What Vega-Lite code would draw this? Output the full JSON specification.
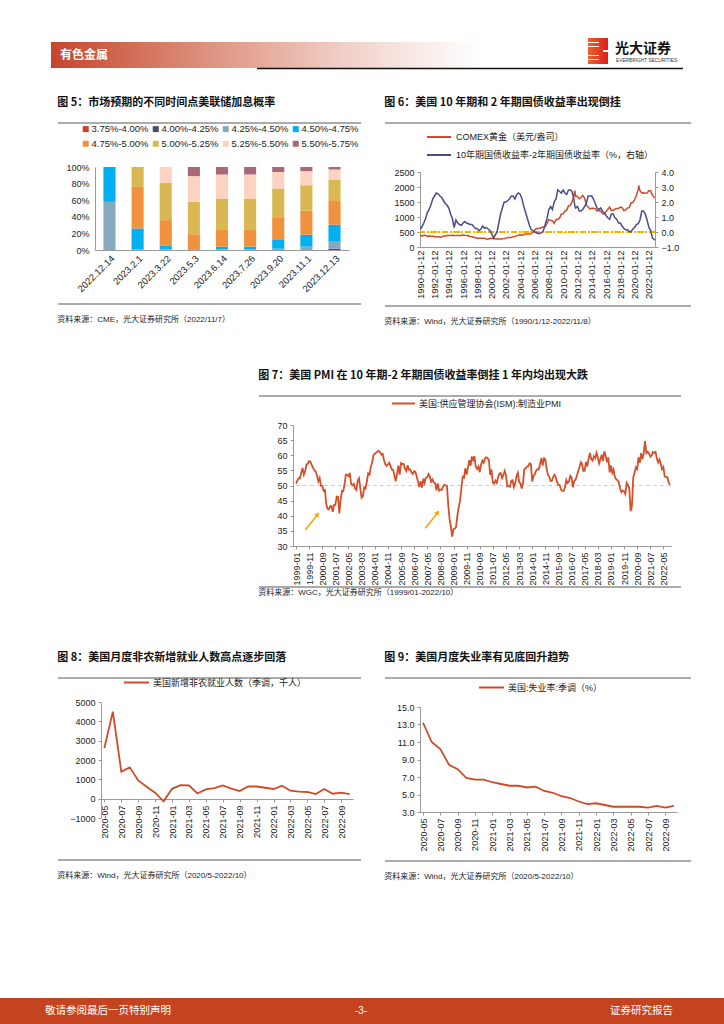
{
  "$schema": "https://vega.github.io/schema/vega-lite/v6.json",
  "padding": 0,
  "background": "white",
  "spacing": 0,
  "resolve": {"scale": {"color": "independent"}, "legend": {"color": "independent"}},
  "config": {
    "view": {"stroke": null},
    "axis": {"labelFont": "Liberation Sans", "labelFontSize": 9, "labelColor": "#222", "domainColor": "#9a9a9a", "tickColor": "#9a9a9a", "tickSize": 3, "grid": false, "labelPadding": 2, "labelOverlap": false, "labelBound": false},
    "legend": {"labelFont": "Liberation Sans, Noto Sans CJK SC", "labelFontSize": 9, "labelColor": "#222", "padding": 0},
    "title": {"font": "Noto Sans CJK SC", "fontSize": 11, "fontWeight": "bold", "color": "#111", "anchor": "start", "frame": "bounds"}
  },
  "datasets": {
    "fed": [
      {"t":"2022.12.14","r":"4.25%-4.50%","p":58},{"t":"2022.12.14","r":"4.50%-4.75%","p":42},
      {"t":"2023.2.1","r":"4.25%-4.50%","p":1},{"t":"2023.2.1","r":"4.50%-4.75%","p":25},{"t":"2023.2.1","r":"4.75%-5.00%","p":50},{"t":"2023.2.1","r":"5.00%-5.25%","p":24},
      {"t":"2023.3.22","r":"4.25%-4.50%","p":1},{"t":"2023.3.22","r":"4.50%-4.75%","p":4},{"t":"2023.3.22","r":"4.75%-5.00%","p":31},{"t":"2023.3.22","r":"5.00%-5.25%","p":45},{"t":"2023.3.22","r":"5.25%-5.50%","p":19},
      {"t":"2023.5.3","r":"4.25%-4.50%","p":1},{"t":"2023.5.3","r":"4.75%-5.00%","p":18},{"t":"2023.5.3","r":"5.00%-5.25%","p":39},{"t":"2023.5.3","r":"5.25%-5.50%","p":31},{"t":"2023.5.3","r":"5.50%-5.75%","p":11},
      {"t":"2023.6.14","r":"4.25%-4.50%","p":1},{"t":"2023.6.14","r":"4.50%-4.75%","p":3},{"t":"2023.6.14","r":"4.75%-5.00%","p":21},{"t":"2023.6.14","r":"5.00%-5.25%","p":37},{"t":"2023.6.14","r":"5.25%-5.50%","p":29},{"t":"2023.6.14","r":"5.50%-5.75%","p":9},
      {"t":"2023.7.26","r":"4.25%-4.50%","p":1},{"t":"2023.7.26","r":"4.50%-4.75%","p":3},{"t":"2023.7.26","r":"4.75%-5.00%","p":21},{"t":"2023.7.26","r":"5.00%-5.25%","p":37},{"t":"2023.7.26","r":"5.25%-5.50%","p":29},{"t":"2023.7.26","r":"5.50%-5.75%","p":9},
      {"t":"2023.9.20","r":"4.25%-4.50%","p":1.5},{"t":"2023.9.20","r":"4.50%-4.75%","p":10.5},{"t":"2023.9.20","r":"4.75%-5.00%","p":26.5},{"t":"2023.9.20","r":"5.00%-5.25%","p":35.5},{"t":"2023.9.20","r":"5.25%-5.50%","p":20},{"t":"2023.9.20","r":"5.50%-5.75%","p":6},
      {"t":"2023.11.1","r":"4.25%-4.50%","p":4},{"t":"2023.11.1","r":"4.50%-4.75%","p":14.5},{"t":"2023.11.1","r":"4.75%-5.00%","p":29},{"t":"2023.11.1","r":"5.00%-5.25%","p":30.5},{"t":"2023.11.1","r":"5.25%-5.50%","p":17},{"t":"2023.11.1","r":"5.50%-5.75%","p":5},
      {"t":"2023.12.13","r":"4.00%-4.25%","p":1.5},{"t":"2023.12.13","r":"4.25%-4.50%","p":8.5},{"t":"2023.12.13","r":"4.50%-4.75%","p":20.5},{"t":"2023.12.13","r":"4.75%-5.00%","p":29.5},{"t":"2023.12.13","r":"5.00%-5.25%","p":25},{"t":"2023.12.13","r":"5.25%-5.50%","p":12},{"t":"2023.12.13","r":"5.50%-5.75%","p":3}
    ],
    "gold": [
      {"d":"1990-01-12","g":400,"s":0.2},{"d":"1990-04-12","g":360,"s":0.35},{"d":"1990-07-12","g":390,"s":0.6},{"d":"1990-10-12","g":380,"s":0.9},
      {"d":"1991-01-12","g":360,"s":1.3},{"d":"1991-04-12","g":365,"s":1.5},{"d":"1991-07-12","g":355,"s":1.8},{"d":"1991-10-12","g":360,"s":2.2},
      {"d":"1992-01-12","g":345,"s":2.4},{"d":"1992-04-12","g":340,"s":2.6},{"d":"1992-07-12","g":345,"s":2.55},{"d":"1992-10-12","g":335,"s":2.4},
      {"d":"1993-01-12","g":330,"s":2.3},{"d":"1993-04-12","g":370,"s":2.1},{"d":"1993-07-12","g":370,"s":1.9},{"d":"1993-10-12","g":385,"s":1.8},
      {"d":"1994-01-12","g":385,"s":1.6},{"d":"1994-04-12","g":385,"s":1.2},{"d":"1994-07-12","g":390,"s":0.9},{"d":"1994-10-12","g":385,"s":0.3},
      {"d":"1995-01-12","g":380,"s":0.8},{"d":"1995-04-12","g":385,"s":0.6},{"d":"1995-07-12","g":385,"s":0.5},{"d":"1995-10-12","g":385,"s":0.45},
      {"d":"1996-01-12","g":400,"s":0.6},{"d":"1996-04-12","g":390,"s":0.7},{"d":"1996-07-12","g":385,"s":0.6},{"d":"1996-10-12","g":375,"s":0.55},
      {"d":"1997-01-12","g":350,"s":0.5},{"d":"1997-04-12","g":340,"s":0.5},{"d":"1997-07-12","g":325,"s":0.35},{"d":"1997-10-12","g":310,"s":0.25},
      {"d":"1998-01-12","g":295,"s":0.2},{"d":"1998-04-12","g":295,"s":0.1},{"d":"1998-07-12","g":290,"s":0.2},{"d":"1998-10-12","g":295,"s":0.4},
      {"d":"1999-01-12","g":290,"s":0.25},{"d":"1999-04-12","g":265,"s":0.3},{"d":"1999-07-12","g":260,"s":0.2},{"d":"1999-10-12","g":290,"s":0.1},
      {"d":"2000-01-12","g":285,"s":-0.1},{"d":"2000-04-12","g":280,"s":-0.4},{"d":"2000-07-12","g":275,"s":-0.2},{"d":"2000-10-12","g":270,"s":0.0},
      {"d":"2001-01-12","g":265,"s":0.6},{"d":"2001-04-12","g":270,"s":1.2},{"d":"2001-07-12","g":275,"s":1.6},{"d":"2001-10-12","g":280,"s":2.0},
      {"d":"2002-01-12","g":295,"s":2.0},{"d":"2002-04-12","g":315,"s":2.1},{"d":"2002-07-12","g":315,"s":2.2},{"d":"2002-10-12","g":320,"s":2.4},
      {"d":"2003-01-12","g":345,"s":2.4},{"d":"2003-04-12","g":350,"s":2.2},{"d":"2003-07-12","g":370,"s":2.5},{"d":"2003-10-12","g":395,"s":2.6},
      {"d":"2004-01-12","g":410,"s":2.5},{"d":"2004-04-12","g":395,"s":2.2},{"d":"2004-07-12","g":405,"s":1.7},{"d":"2004-10-12","g":435,"s":1.3},
      {"d":"2005-01-12","g":430,"s":0.9},{"d":"2005-04-12","g":430,"s":0.5},{"d":"2005-07-12","g":440,"s":0.2},{"d":"2005-10-12","g":485,"s":0.1},
      {"d":"2006-01-12","g":555,"s":0.0},{"d":"2006-04-12","g":615,"s":-0.05},{"d":"2006-07-12","g":620,"s":-0.1},{"d":"2006-10-12","g":625,"s":-0.1},
      {"d":"2007-01-12","g":650,"s":-0.05},{"d":"2007-04-12","g":665,"s":0.1},{"d":"2007-07-12","g":680,"s":0.5},{"d":"2007-10-12","g":790,"s":0.9},
      {"d":"2008-01-12","g":920,"s":1.5},{"d":"2008-04-12","g":890,"s":1.7},{"d":"2008-07-12","g":870,"s":1.5},{"d":"2008-10-12","g":790,"s":2.0},
      {"d":"2009-01-12","g":910,"s":2.2},{"d":"2009-04-12","g":925,"s":2.8},{"d":"2009-07-12","g":960,"s":2.7},{"d":"2009-10-12","g":1100,"s":2.6},
      {"d":"2010-01-12","g":1110,"s":2.8},{"d":"2010-04-12","g":1200,"s":2.6},{"d":"2010-07-12","g":1230,"s":2.5},{"d":"2010-10-12","g":1370,"s":2.8},
      {"d":"2011-01-12","g":1390,"s":2.8},{"d":"2011-04-12","g":1510,"s":2.7},{"d":"2011-07-12","g":1700,"s":2.2},{"d":"2011-09-05","g":1880,"s":1.7},{"d":"2011-10-12","g":1690,"s":1.6},
      {"d":"2012-01-12","g":1690,"s":1.7},{"d":"2012-04-12","g":1610,"s":1.4},{"d":"2012-07-12","g":1650,"s":1.4},{"d":"2012-10-12","g":1720,"s":1.5},
      {"d":"2013-01-12","g":1630,"s":1.7},{"d":"2013-04-12","g":1410,"s":1.9},{"d":"2013-07-12","g":1330,"s":2.4},{"d":"2013-10-12","g":1270,"s":2.4},
      {"d":"2014-01-12","g":1290,"s":2.4},{"d":"2014-04-12","g":1290,"s":2.2},{"d":"2014-07-12","g":1280,"s":1.9},{"d":"2014-10-12","g":1200,"s":1.6},
      {"d":"2015-01-12","g":1220,"s":1.5},{"d":"2015-04-12","g":1190,"s":1.6},{"d":"2015-07-12","g":1120,"s":1.4},{"d":"2015-10-12","g":1100,"s":1.3},
      {"d":"2016-01-12","g":1180,"s":1.1},{"d":"2016-04-12","g":1260,"s":0.95},{"d":"2016-07-12","g":1330,"s":0.85},{"d":"2016-10-12","g":1220,"s":1.2},
      {"d":"2017-01-12","g":1220,"s":1.2},{"d":"2017-04-12","g":1260,"s":0.95},{"d":"2017-07-12","g":1280,"s":0.85},{"d":"2017-10-12","g":1280,"s":0.6},
      {"d":"2018-01-12","g":1330,"s":0.6},{"d":"2018-04-12","g":1310,"s":0.4},{"d":"2018-07-12","g":1210,"s":0.25},{"d":"2018-10-12","g":1230,"s":0.15},
      {"d":"2019-01-12","g":1300,"s":0.15},{"d":"2019-04-12","g":1310,"s":0.05},{"d":"2019-07-12","g":1470,"s":0.0},{"d":"2019-10-12","g":1480,"s":0.2},
      {"d":"2020-01-12","g":1580,"s":0.3},{"d":"2020-04-12","g":1710,"s":0.5},{"d":"2020-07-12","g":1910,"s":0.55},{"d":"2020-08-07","g":2050,"s":0.6},{"d":"2020-10-12","g":1880,"s":0.8},
      {"d":"2021-01-12","g":1800,"s":1.4},{"d":"2021-04-12","g":1810,"s":1.4},{"d":"2021-07-12","g":1790,"s":1.2},{"d":"2021-10-12","g":1800,"s":0.8},
      {"d":"2022-01-12","g":1880,"s":0.3},{"d":"2022-04-12","g":1870,"s":0.1},{"d":"2022-07-12","g":1730,"s":-0.4},{"d":"2022-10-12","g":1650,"s":-0.5},{"d":"2022-11-08","g":1660,"s":-0.55}
    ],
    "pmi": [
      {"d":"1999-01","v":50.6},{"d":"1999-02","v":51.7},{"d":"1999-03","v":52.4},{"d":"1999-04","v":52.3},{"d":"1999-05","v":54.3},{"d":"1999-06","v":55.8},{"d":"1999-07","v":53.6},{"d":"1999-08","v":54.8},{"d":"1999-09","v":57.0},{"d":"1999-10","v":57.2},{"d":"1999-11","v":58.1},{"d":"1999-12","v":57.8},
      {"d":"2000-01","v":56.7},{"d":"2000-02","v":55.8},{"d":"2000-03","v":54.9},{"d":"2000-04","v":54.7},{"d":"2000-05","v":53.2},{"d":"2000-06","v":51.4},{"d":"2000-07","v":52.5},{"d":"2000-08","v":49.9},{"d":"2000-09","v":49.9},{"d":"2000-10","v":48.3},{"d":"2000-11","v":48.5},{"d":"2000-12","v":43.9},
      {"d":"2001-01","v":42.3},{"d":"2001-02","v":42.1},{"d":"2001-03","v":43.1},{"d":"2001-04","v":43.2},{"d":"2001-05","v":41.3},{"d":"2001-06","v":43.6},{"d":"2001-07","v":43.6},{"d":"2001-08","v":46.3},{"d":"2001-09","v":46.2},{"d":"2001-10","v":40.8},{"d":"2001-11","v":45.3},{"d":"2001-12","v":48.2},
      {"d":"2002-01","v":48.1},{"d":"2002-02","v":50.7},{"d":"2002-03","v":53.6},{"d":"2002-04","v":53.5},{"d":"2002-05","v":53.1},{"d":"2002-06","v":54.2},{"d":"2002-07","v":50.5},{"d":"2002-08","v":50.1},{"d":"2002-09","v":50.5},{"d":"2002-10","v":49.0},{"d":"2002-11","v":48.5},{"d":"2002-12","v":51.6},
      {"d":"2003-01","v":52.4},{"d":"2003-02","v":48.9},{"d":"2003-03","v":46.0},{"d":"2003-04","v":46.5},{"d":"2003-05","v":49.4},{"d":"2003-06","v":49.0},{"d":"2003-07","v":51.3},{"d":"2003-08","v":54.0},{"d":"2003-09","v":53.6},{"d":"2003-10","v":56.2},{"d":"2003-11","v":57.5},{"d":"2003-12","v":60.0},
      {"d":"2004-01","v":60.5},{"d":"2004-02","v":60.8},{"d":"2004-03","v":61.2},{"d":"2004-04","v":61.5},{"d":"2004-05","v":61.0},{"d":"2004-06","v":60.2},{"d":"2004-07","v":60.5},{"d":"2004-08","v":58.5},{"d":"2004-09","v":57.0},{"d":"2004-10","v":56.5},{"d":"2004-11","v":57.0},{"d":"2004-12","v":57.5},
      {"d":"2005-01","v":56.4},{"d":"2005-02","v":55.3},{"d":"2005-03","v":55.2},{"d":"2005-04","v":53.3},{"d":"2005-05","v":51.4},{"d":"2005-06","v":53.8},{"d":"2005-07","v":56.6},{"d":"2005-08","v":53.6},{"d":"2005-09","v":57.4},{"d":"2005-10","v":57.1},{"d":"2005-11","v":57.1},{"d":"2005-12","v":55.6},
      {"d":"2006-01","v":54.8},{"d":"2006-02","v":56.7},{"d":"2006-03","v":55.2},{"d":"2006-04","v":55.3},{"d":"2006-05","v":54.4},{"d":"2006-06","v":53.8},{"d":"2006-07","v":54.7},{"d":"2006-08","v":54.5},{"d":"2006-09","v":52.9},{"d":"2006-10","v":51.2},{"d":"2006-11","v":49.5},{"d":"2006-12","v":51.4},
      {"d":"2007-01","v":49.3},{"d":"2007-02","v":52.3},{"d":"2007-03","v":50.9},{"d":"2007-04","v":52.6},{"d":"2007-05","v":52.7},{"d":"2007-06","v":53.8},{"d":"2007-07","v":53.0},{"d":"2007-08","v":51.2},{"d":"2007-09","v":52.0},{"d":"2007-10","v":50.9},{"d":"2007-11","v":50.8},{"d":"2007-12","v":48.4},
      {"d":"2008-01","v":50.7},{"d":"2008-02","v":48.3},{"d":"2008-03","v":48.6},{"d":"2008-04","v":48.6},{"d":"2008-05","v":49.6},{"d":"2008-06","v":50.2},{"d":"2008-07","v":50.0},{"d":"2008-08","v":49.9},{"d":"2008-09","v":43.5},{"d":"2008-10","v":38.9},{"d":"2008-11","v":36.2},{"d":"2008-12","v":33.1},
      {"d":"2009-01","v":35.6},{"d":"2009-02","v":35.8},{"d":"2009-03","v":36.3},{"d":"2009-04","v":40.1},{"d":"2009-05","v":42.8},{"d":"2009-06","v":45.0},{"d":"2009-07","v":48.9},{"d":"2009-08","v":52.9},{"d":"2009-09","v":52.6},{"d":"2009-10","v":55.7},{"d":"2009-11","v":53.6},{"d":"2009-12","v":55.9},
      {"d":"2010-01","v":58.4},{"d":"2010-02","v":56.5},{"d":"2010-03","v":59.6},{"d":"2010-04","v":58.4},{"d":"2010-05","v":59.7},{"d":"2010-06","v":56.2},{"d":"2010-07","v":55.5},{"d":"2010-08","v":56.3},{"d":"2010-09","v":54.4},{"d":"2010-10","v":56.9},{"d":"2010-11","v":58.2},{"d":"2010-12","v":57.5},
      {"d":"2011-01","v":59.0},{"d":"2011-02","v":59.3},{"d":"2011-03","v":59.0},{"d":"2011-04","v":58.5},{"d":"2011-05","v":53.5},{"d":"2011-06","v":55.3},{"d":"2011-07","v":50.9},{"d":"2011-08","v":50.6},{"d":"2011-09","v":51.6},{"d":"2011-10","v":50.8},{"d":"2011-11","v":52.7},{"d":"2011-12","v":53.9},
      {"d":"2012-01","v":54.1},{"d":"2012-02","v":52.4},{"d":"2012-03","v":53.4},{"d":"2012-04","v":54.8},{"d":"2012-05","v":53.5},{"d":"2012-06","v":49.7},{"d":"2012-07","v":49.8},{"d":"2012-08","v":49.6},{"d":"2012-09","v":51.5},{"d":"2012-10","v":51.7},{"d":"2012-11","v":49.5},{"d":"2012-12","v":50.7},
      {"d":"2013-01","v":53.1},{"d":"2013-02","v":54.2},{"d":"2013-03","v":51.3},{"d":"2013-04","v":50.7},{"d":"2013-05","v":49.0},{"d":"2013-06","v":50.9},{"d":"2013-07","v":55.4},{"d":"2013-08","v":55.7},{"d":"2013-09","v":56.2},{"d":"2013-10","v":56.4},{"d":"2013-11","v":57.3},{"d":"2013-12","v":57.0},
      {"d":"2014-01","v":51.3},{"d":"2014-02","v":53.2},{"d":"2014-03","v":53.7},{"d":"2014-04","v":54.9},{"d":"2014-05","v":55.4},{"d":"2014-06","v":55.3},{"d":"2014-07","v":57.1},{"d":"2014-08","v":59.0},{"d":"2014-09","v":56.6},{"d":"2014-10","v":59.0},{"d":"2014-11","v":58.7},{"d":"2014-12","v":55.5},
      {"d":"2015-01","v":53.5},{"d":"2015-02","v":52.9},{"d":"2015-03","v":51.5},{"d":"2015-04","v":51.5},{"d":"2015-05","v":52.8},{"d":"2015-06","v":53.5},{"d":"2015-07","v":52.7},{"d":"2015-08","v":51.1},{"d":"2015-09","v":50.2},{"d":"2015-10","v":50.1},{"d":"2015-11","v":48.6},{"d":"2015-12","v":48.2},
      {"d":"2016-01","v":48.2},{"d":"2016-02","v":49.5},{"d":"2016-03","v":51.8},{"d":"2016-04","v":50.8},{"d":"2016-05","v":51.3},{"d":"2016-06","v":53.2},{"d":"2016-07","v":52.6},{"d":"2016-08","v":49.4},{"d":"2016-09","v":51.5},{"d":"2016-10","v":51.9},{"d":"2016-11","v":53.2},{"d":"2016-12","v":54.7},
      {"d":"2017-01","v":56.0},{"d":"2017-02","v":57.7},{"d":"2017-03","v":57.2},{"d":"2017-04","v":54.8},{"d":"2017-05","v":54.9},{"d":"2017-06","v":57.8},{"d":"2017-07","v":56.3},{"d":"2017-08","v":58.8},{"d":"2017-09","v":60.8},{"d":"2017-10","v":58.7},{"d":"2017-11","v":58.2},{"d":"2017-12","v":59.7},
      {"d":"2018-01","v":59.1},{"d":"2018-02","v":60.8},{"d":"2018-03","v":59.3},{"d":"2018-04","v":57.3},{"d":"2018-05","v":58.7},{"d":"2018-06","v":60.2},{"d":"2018-07","v":58.1},{"d":"2018-08","v":61.3},{"d":"2018-09","v":59.8},{"d":"2018-10","v":57.7},{"d":"2018-11","v":59.3},{"d":"2018-12","v":54.3},
      {"d":"2019-01","v":56.6},{"d":"2019-02","v":54.2},{"d":"2019-03","v":55.3},{"d":"2019-04","v":52.8},{"d":"2019-05","v":52.1},{"d":"2019-06","v":51.7},{"d":"2019-07","v":51.2},{"d":"2019-08","v":49.1},{"d":"2019-09","v":47.8},{"d":"2019-10","v":48.3},{"d":"2019-11","v":48.1},{"d":"2019-12","v":47.2},
      {"d":"2020-01","v":50.9},{"d":"2020-02","v":50.1},{"d":"2020-03","v":49.1},{"d":"2020-04","v":41.5},{"d":"2020-05","v":43.1},{"d":"2020-06","v":52.6},{"d":"2020-07","v":54.2},{"d":"2020-08","v":56.0},{"d":"2020-09","v":55.4},{"d":"2020-10","v":59.3},{"d":"2020-11","v":57.5},{"d":"2020-12","v":60.7},
      {"d":"2021-01","v":58.7},{"d":"2021-02","v":60.8},{"d":"2021-03","v":64.7},{"d":"2021-04","v":60.7},{"d":"2021-05","v":61.2},{"d":"2021-06","v":60.6},{"d":"2021-07","v":59.5},{"d":"2021-08","v":59.9},{"d":"2021-09","v":61.1},{"d":"2021-10","v":60.8},{"d":"2021-11","v":61.1},{"d":"2021-12","v":58.8},
      {"d":"2022-01","v":57.6},{"d":"2022-02","v":58.6},{"d":"2022-03","v":57.1},{"d":"2022-04","v":55.4},{"d":"2022-05","v":56.1},{"d":"2022-06","v":53.0},{"d":"2022-07","v":52.8},{"d":"2022-08","v":52.8},{"d":"2022-09","v":50.9},{"d":"2022-10","v":50.2}
    ],
    "arrows": [
      {"d":"1999-08-04","v":35.3,"d2":"2000-05-16","v2":40.5},
      {"d":"2007-03-19","v":35.9,"d2":"2008-01-01","v2":41.1}
    ],
    "nfp": [
      {"m":"2020-05","v":2620},{"m":"2020-06","v":4500},{"m":"2020-07","v":1400},{"m":"2020-08","v":1620},{"m":"2020-09","v":940},{"m":"2020-10","v":620},{"m":"2020-11","v":310},{"m":"2020-12","v":-140},
      {"m":"2021-01","v":510},{"m":"2021-02","v":700},{"m":"2021-03","v":690},{"m":"2021-04","v":270},{"m":"2021-05","v":480},{"m":"2021-06","v":550},{"m":"2021-07","v":685},{"m":"2021-08","v":515},{"m":"2021-09","v":395},{"m":"2021-10","v":630},{"m":"2021-11","v":630},{"m":"2021-12","v":565},
      {"m":"2022-01","v":500},{"m":"2022-02","v":670},{"m":"2022-03","v":410},{"m":"2022-04","v":360},{"m":"2022-05","v":345},{"m":"2022-06","v":240},{"m":"2022-07","v":500},{"m":"2022-08","v":255},{"m":"2022-09","v":310},{"m":"2022-10","v":240}
    ],
    "unemp": [
      {"m":"2020-05","v":13.2},{"m":"2020-06","v":11.0},{"m":"2020-07","v":10.2},{"m":"2020-08","v":8.4},{"m":"2020-09","v":7.9},{"m":"2020-10","v":6.9},{"m":"2020-11","v":6.7},{"m":"2020-12","v":6.7},
      {"m":"2021-01","v":6.4},{"m":"2021-02","v":6.2},{"m":"2021-03","v":6.0},{"m":"2021-04","v":6.0},{"m":"2021-05","v":5.8},{"m":"2021-06","v":5.9},{"m":"2021-07","v":5.4},{"m":"2021-08","v":5.2},{"m":"2021-09","v":4.8},{"m":"2021-10","v":4.6},{"m":"2021-11","v":4.2},{"m":"2021-12","v":3.9},
      {"m":"2022-01","v":4.0},{"m":"2022-02","v":3.8},{"m":"2022-03","v":3.6},{"m":"2022-04","v":3.6},{"m":"2022-05","v":3.6},{"m":"2022-06","v":3.6},{"m":"2022-07","v":3.5},{"m":"2022-08","v":3.7},{"m":"2022-09","v":3.5},{"m":"2022-10","v":3.7}
    ]
  },
  "vconcat": [
    {
      "width": 724, "height": 70,
      "data": {"values": [{}]},
      "layer": [
        {"mark": {"type": "rect", "fill": {"gradient": "linear", "x1": 0, "x2": 1, "y1": 0, "y2": 0, "stops": [{"offset": 0, "color": "#C6452B"}, {"offset": 0.35, "color": "#DD8F7C"}, {"offset": 0.7, "color": "#F1D3CB"}, {"offset": 1, "color": "#FFFFFF"}]}},
         "encoding": {"x": {"datum": 51, "type": "quantitative", "scale": {"domain": [0, 724], "nice": false, "zero": false}, "axis": null}, "x2": {"datum": 480}, "y": {"datum": 42, "type": "quantitative", "scale": {"domain": [0, 70], "nice": false, "zero": false, "reverse": true}, "axis": null}, "y2": {"datum": 68}}},
        {"mark": {"type": "text", "text": "有色金属", "font": "Noto Sans CJK SC", "fontSize": 12, "fontWeight": "bold", "color": "#FFFFFF", "align": "left", "baseline": "middle"},
         "encoding": {"x": {"datum": 60, "type": "quantitative"}, "y": {"datum": 55, "type": "quantitative"}}},
        {"mark": {"type": "rule", "color": "#111111", "strokeWidth": 1.5},
         "encoding": {"x": {"datum": 257, "type": "quantitative"}, "x2": {"datum": 683}, "y": {"datum": 68.5, "type": "quantitative"}}},
        {"mark": {"type": "rect", "fill": {"gradient": "linear", "x1": 0, "x2": 1, "y1": 0, "y2": 0, "stops": [{"offset": 0, "color": "#F0602E"}, {"offset": 1, "color": "#D9201E"}]}},
         "encoding": {"x": {"datum": 588, "type": "quantitative"}, "x2": {"datum": 608}, "y": {"datum": 38, "type": "quantitative"}, "y2": {"datum": 64}}},
        {"mark": {"type": "rule", "color": "#FFFFFF", "strokeWidth": 1}, "encoding": {"x": {"datum": 588, "type": "quantitative"}, "x2": {"datum": 599}, "y": {"datum": 42.5, "type": "quantitative"}}},
        {"mark": {"type": "rule", "color": "#FFFFFF", "strokeWidth": 1}, "encoding": {"x": {"datum": 588, "type": "quantitative"}, "x2": {"datum": 599}, "y": {"datum": 46.5, "type": "quantitative"}}},
        {"mark": {"type": "rule", "color": "#FFFFFF", "strokeWidth": 1}, "encoding": {"x": {"datum": 588, "type": "quantitative"}, "x2": {"datum": 599}, "y": {"datum": 55.5, "type": "quantitative"}}},
        {"mark": {"type": "rule", "color": "#FFFFFF", "strokeWidth": 1}, "encoding": {"x": {"datum": 588, "type": "quantitative"}, "x2": {"datum": 599}, "y": {"datum": 59.5, "type": "quantitative"}}},
        {"mark": {"type": "rect", "color": "#FFFFFF"}, "encoding": {"x": {"datum": 603, "type": "quantitative"}, "x2": {"datum": 608}, "y": {"datum": 50, "type": "quantitative"}, "y2": {"datum": 52}}},
        {"mark": {"type": "text", "text": "光大证券", "font": "Noto Sans CJK SC", "fontSize": 14, "fontWeight": "bold", "color": "#111111", "align": "left", "baseline": "middle"},
         "encoding": {"x": {"datum": 615, "type": "quantitative"}, "y": {"datum": 49, "type": "quantitative"}}},
        {"mark": {"type": "text", "text": "EVERBRIGHT SECURITIES", "font": "Liberation Sans", "fontSize": 4.8, "color": "#333333", "align": "left", "baseline": "middle"},
         "encoding": {"x": {"datum": 616, "type": "quantitative"}, "y": {"datum": 60.5, "type": "quantitative"}}}
      ]
    },
    {"width": 1, "height": 27, "data": {"values": []}, "mark": "point"},
    {
      "spacing": 22,
      "resolve": {"scale": {"color": "independent"}, "legend": {"color": "independent"}},
      "hconcat": [
        {"width": 35, "height": 1, "data": {"values": []}, "mark": "point"},
        {
          "spacing": 0,
          "resolve": {"scale": {"color": "independent"}, "legend": {"color": "independent"}},
          "vconcat": [
            {
              "width": 254, "height": 1, "data": {"values": [{}]},
              "title": {"text": "图 5：市场预期的不同时间点美联储加息概率", "orient": "top", "offset": 3, "baseline": "bottom", "anchor": "start", "frame": "bounds"},
              "mark": {"type": "rule", "color": "#8f8f8f", "strokeWidth": 1.5},
              "encoding": {"x": {"datum": -37, "type": "quantitative", "scale": {"domain": [0, 254], "nice": false, "zero": false}, "axis": null}, "x2": {"datum": 266}, "y": {"datum": 1, "type": "quantitative", "scale": {"domain": [0, 1], "nice": false}, "axis": null}}
            },
            {
              "width": 254, "height": 83,
              "data": {"name": "fed"},
              "mark": {"type": "bar"},
              "encoding": {
                "x": {"field": "t", "type": "ordinal", "sort": ["2022.12.14","2023.2.1","2023.3.22","2023.5.3","2023.6.14","2023.7.26","2023.9.20","2023.11.1","2023.12.13"], "scale": {"paddingInner": 0.57, "paddingOuter": 0.3}, "axis": {"title": null, "labelAngle": -45, "ticks": false, "labelPadding": 3, "labelOverlap": false, "labelFontSize": 9.5}},
                "y": {"field": "p", "type": "quantitative", "stack": "zero", "scale": {"domain": [0, 100], "nice": false}, "axis": {"title": null, "values": [0, 20, 40, 60, 80, 100], "tickCount": 100, "labelExpr": "datum.value + '%'", "ticks": false, "labelPadding": 6, "labelOverlap": false}},
                "color": {"field": "r", "type": "nominal", "scale": {"domain": ["3.75%-4.00%","4.00%-4.25%","4.25%-4.50%","4.50%-4.75%","4.75%-5.00%","5.00%-5.25%","5.25%-5.50%","5.50%-5.75%"], "range": ["#C8402A","#4F4B6E","#86AABD","#00B0F0","#F0913D","#D9B853","#FCD3C1","#A8687A"]},
                  "legend": {"title": null, "orient": "none", "legendX": -14, "legendY": -43, "direction": "horizontal", "columns": 4, "symbolType": "square", "symbolSize": 36, "symbolStrokeWidth": 0, "labelFontSize": 9.5, "labelFont": "Liberation Sans", "labelOffset": 1, "columnPadding": 2, "rowPadding": 4}},
                "order": {"field": "r", "sort": "ascending"}
              }
            },
            {
              "width": 254, "height": 10, "data": {"values": [{}]},
              "title": {"text": "资料来源：CME，光大证券研究所（2022/11/7）", "orient": "bottom", "offset": 11, "baseline": "top", "anchor": "start", "frame": "bounds", "fontSize": 8, "fontWeight": "normal", "font": "Liberation Sans, Noto Sans CJK SC", "color": "#222"},
              "mark": {"type": "rule", "color": "#8f8f8f", "strokeWidth": 1.5},
              "encoding": {"x": {"datum": -37, "type": "quantitative", "scale": {"domain": [0, 254], "nice": false, "zero": false}, "axis": null}, "x2": {"datum": 266}, "y": {"datum": 0, "type": "quantitative", "scale": {"domain": [0, 1], "nice": false}, "axis": null}}
            }
          ]
        },
        {
          "spacing": 0,
          "resolve": {"scale": {"color": "independent"}, "legend": {"color": "independent"}},
          "vconcat": [
            {
              "width": 235, "height": 1, "data": {"values": [{}]},
              "title": {"text": "图 6：美国 10 年期和 2 年期国债收益率出现倒挂", "orient": "top", "offset": 3, "baseline": "bottom", "anchor": "start", "frame": "bounds"},
              "mark": {"type": "rule", "color": "#8f8f8f", "strokeWidth": 1.5},
              "encoding": {"x": {"datum": -35, "type": "quantitative", "scale": {"domain": [0, 235], "nice": false, "zero": false}, "axis": null}, "x2": {"datum": 271}, "y": {"datum": 1, "type": "quantitative", "scale": {"domain": [0, 1], "nice": false}, "axis": null}}
            },
            {
              "width": 235, "height": 75,
              "data": {"name": "gold"},
              "layer": [
                {
                  "mark": {"type": "line", "strokeWidth": 1.5},
                  "encoding": {
                    "x": {"field": "d", "type": "temporal", "scale": {"type": "utc", "domain": [{"year": 1990, "month": 1, "date": 1, "utc": true}, {"year": 2022, "month": 11, "date": 20, "utc": true}]},
                      "axis": {"title": null, "format": "%Y-%m-%d", "labelAngle": -90, "labelFontSize": 9.5, "ticks": false, "labelPadding": 3, "labelOverlap": false, "tickCount": 100, "values": [{"year":1990,"month":1,"date":12,"utc":true},{"year":1992,"month":1,"date":12,"utc":true},{"year":1994,"month":1,"date":12,"utc":true},{"year":1996,"month":1,"date":12,"utc":true},{"year":1998,"month":1,"date":12,"utc":true},{"year":2000,"month":1,"date":12,"utc":true},{"year":2002,"month":1,"date":12,"utc":true},{"year":2004,"month":1,"date":12,"utc":true},{"year":2006,"month":1,"date":12,"utc":true},{"year":2008,"month":1,"date":12,"utc":true},{"year":2010,"month":1,"date":12,"utc":true},{"year":2012,"month":1,"date":12,"utc":true},{"year":2014,"month":1,"date":12,"utc":true},{"year":2016,"month":1,"date":12,"utc":true},{"year":2018,"month":1,"date":12,"utc":true},{"year":2020,"month":1,"date":12,"utc":true},{"year":2022,"month":1,"date":12,"utc":true}]}},
                    "y": {"field": "g", "type": "quantitative", "scale": {"domain": [0, 2500], "nice": false}, "axis": {"title": null, "orient": "left", "values": [0, 500, 1000, 1500, 2000, 2500], "tickCount": 100, "format": "d", "labelPadding": 3, "labelOverlap": false}},
                    "color": {"datum": "COMEX黄金（美元/盎司）", "type": "nominal", "scale": {"domain": ["COMEX黄金（美元/盎司）", "10年期国债收益率-2年期国债收益率（%，右轴）"], "range": ["#CF4A2B", "#4D4C86"]},
                      "legend": {"title": null, "orient": "none", "legendX": 6, "legendY": -48, "direction": "vertical", "symbolType": "stroke", "symbolSize": 576, "symbolStrokeWidth": 2, "rowPadding": 0, "labelFontSize": 9, "labelOffset": 4, "labelLimit": 300}}
                  }
                },
                {
                  "layer": [
                    {"mark": {"type": "rule", "color": "#F2B400", "strokeWidth": 0.8, "strokeDash": [6, 2, 1.5, 2]}, "encoding": {"y": {"datum": 0, "type": "quantitative"}}},
                    {
                      "mark": {"type": "line", "strokeWidth": 1.5},
                      "encoding": {
                        "x": {"field": "d", "type": "temporal"},
                        "y": {"field": "s", "type": "quantitative", "scale": {"domain": [-1, 4], "nice": false}, "axis": {"title": null, "orient": "right", "values": [-1, 0, 1, 2, 3, 4], "tickCount": 100, "format": ".1f", "labelPadding": 3, "labelOverlap": false}},
                        "color": {"datum": "10年期国债收益率-2年期国债收益率（%，右轴）", "type": "nominal"}
                      }
                    }
                  ]
                }
              ],
              "resolve": {"scale": {"y": "independent"}}
            },
            {
              "width": 235, "height": 7, "data": {"values": [{}]},
              "title": {"text": "资料来源：Wind，光大证券研究所（1990/1/12-2022/11/8）", "orient": "bottom", "offset": 11, "baseline": "top", "anchor": "start", "frame": "bounds", "fontSize": 8, "fontWeight": "normal", "font": "Liberation Sans, Noto Sans CJK SC", "color": "#222"},
              "mark": {"type": "rule", "color": "#8f8f8f", "strokeWidth": 1.5},
              "encoding": {"x": {"datum": -35, "type": "quantitative", "scale": {"domain": [0, 235], "nice": false, "zero": false}, "axis": null}, "x2": {"datum": 271}, "y": {"datum": 0, "type": "quantitative", "scale": {"domain": [0, 1], "nice": false}, "axis": null}}
            }
          ]
        }
      ]
    },
    {"width": 1, "height": 44, "data": {"values": []}, "mark": "point"},
    {
      "spacing": 0,
      "resolve": {"scale": {"color": "independent"}, "legend": {"color": "independent"}},
      "hconcat": [
        {"width": 258, "height": 1, "data": {"values": []}, "mark": "point"},
        {
          "spacing": -6,
          "resolve": {"scale": {"color": "independent"}, "legend": {"color": "independent"}},
          "vconcat": [
            {
              "width": 378, "height": 1, "data": {"values": [{}]},
              "title": {"text": "图 7：美国 PMI 在 10 年期-2 年期国债收益率倒挂 1 年内均出现大跌", "orient": "top", "offset": 3, "baseline": "bottom", "anchor": "start", "frame": "bounds"},
              "mark": {"type": "rule", "color": "#8f8f8f", "strokeWidth": 1.5},
              "encoding": {"x": {"datum": -34, "type": "quantitative", "scale": {"domain": [0, 378], "nice": false, "zero": false}, "axis": null}, "x2": {"datum": 388}, "y": {"datum": 1, "type": "quantitative", "scale": {"domain": [0, 1], "nice": false}, "axis": null}}
            },
            {
              "width": 378, "height": 121,
              "layer": [
                {
                  "data": {"values": [{}]},
                  "mark": {"type": "rule", "color": "#F6C98C", "strokeWidth": 1, "strokeDash": [4, 3]},
                  "encoding": {"y": {"datum": 50, "type": "quantitative"}}
                },
                {
                  "data": {"name": "pmi"},
                  "mark": {"type": "line", "strokeWidth": 1.8},
                  "encoding": {
                    "x": {"field": "d", "type": "temporal", "scale": {"type": "utc", "domain": [{"year": 1998, "month": 10, "date": 22, "utc": true}, {"year": 2022, "month": 10, "date": 25, "utc": true}]},
                      "axis": {"title": null, "format": "%Y-%m", "labelAngle": -90, "labelPadding": 3, "tickSize": 3, "labelOverlap": false, "tickCount": 100, "values": [{"year":1999,"month":1,"utc":true},{"year":1999,"month":11,"utc":true},{"year":2000,"month":9,"utc":true},{"year":2001,"month":7,"utc":true},{"year":2002,"month":5,"utc":true},{"year":2003,"month":3,"utc":true},{"year":2004,"month":1,"utc":true},{"year":2004,"month":11,"utc":true},{"year":2005,"month":9,"utc":true},{"year":2006,"month":7,"utc":true},{"year":2007,"month":5,"utc":true},{"year":2008,"month":3,"utc":true},{"year":2009,"month":1,"utc":true},{"year":2009,"month":11,"utc":true},{"year":2010,"month":9,"utc":true},{"year":2011,"month":7,"utc":true},{"year":2012,"month":5,"utc":true},{"year":2013,"month":3,"utc":true},{"year":2014,"month":1,"utc":true},{"year":2014,"month":11,"utc":true},{"year":2015,"month":9,"utc":true},{"year":2016,"month":7,"utc":true},{"year":2017,"month":5,"utc":true},{"year":2018,"month":3,"utc":true},{"year":2019,"month":1,"utc":true},{"year":2019,"month":11,"utc":true},{"year":2020,"month":9,"utc":true},{"year":2021,"month":7,"utc":true},{"year":2022,"month":5,"utc":true}]}},
                    "y": {"field": "v", "type": "quantitative", "scale": {"domain": [30, 70], "nice": false, "zero": false}, "axis": {"title": null, "values": [30, 35, 40, 45, 50, 55, 60, 65, 70], "tickCount": 100, "format": "d", "labelPadding": 3, "labelOverlap": false}},
                    "color": {"datum": "美国:供应管理协会(ISM):制造业PMI", "type": "nominal", "scale": {"domain": ["美国:供应管理协会(ISM):制造业PMI"], "range": ["#D4502B"]},
                      "legend": {"title": null, "orient": "none", "legendX": 98, "legendY": -34, "symbolType": "stroke", "symbolSize": 529, "symbolStrokeWidth": 2, "labelFontSize": 9, "labelOffset": 3}}
                  }
                },
                {
                  "data": {"name": "arrows"},
                  "mark": {"type": "rule", "color": "#F5A800", "strokeWidth": 1.6},
                  "encoding": {"x": {"field": "d", "type": "temporal"}, "x2": {"field": "d2"}, "y": {"field": "v", "type": "quantitative"}, "y2": {"field": "v2"}}
                },
                {
                  "data": {"name": "arrows"},
                  "mark": {"type": "point", "shape": "triangle-up", "angle": 38, "filled": true, "color": "#F5A800", "size": 28, "opacity": 1},
                  "encoding": {"x": {"field": "d2", "type": "temporal"}, "y": {"field": "v2", "type": "quantitative"}}
                }
              ]
            },
            {
              "width": 378, "height": 1, "data": {"values": [{}]},
              "title": {"text": "资料来源：WGC，光大证券研究所（1999/01-2022/10）", "orient": "bottom", "offset": 1, "baseline": "top", "anchor": "start", "frame": "bounds", "fontSize": 8, "fontWeight": "normal", "font": "Liberation Sans, Noto Sans CJK SC", "color": "#222"},
              "mark": {"type": "rule", "color": "#8f8f8f", "strokeWidth": 1.5},
              "encoding": {"x": {"datum": -34, "type": "quantitative", "scale": {"domain": [0, 378], "nice": false, "zero": false}, "axis": null}, "x2": {"datum": 388}, "y": {"datum": 0, "type": "quantitative", "scale": {"domain": [0, 1], "nice": false}, "axis": null}}
            }
          ]
        }
      ]
    },
    {"width": 1, "height": 55, "data": {"values": []}, "mark": "point"},
    {
      "spacing": 22,
      "resolve": {"scale": {"color": "independent"}, "legend": {"color": "independent"}},
      "hconcat": [
        {"width": 35, "height": 1, "data": {"values": []}, "mark": "point"},
        {
          "spacing": -11,
          "resolve": {"scale": {"color": "independent"}, "legend": {"color": "independent"}},
          "vconcat": [
            {
              "width": 252, "height": 2, "data": {"values": [{}]},
              "title": {"text": "图 8：美国月度非农新增就业人数高点逐步回落", "orient": "top", "offset": 3, "baseline": "bottom", "anchor": "start", "frame": "bounds"},
              "mark": {"type": "rule", "color": "#8f8f8f", "strokeWidth": 1.5},
              "encoding": {"x": {"datum": -43, "type": "quantitative", "scale": {"domain": [0, 252], "nice": false, "zero": false}, "axis": null}, "x2": {"datum": 260}, "y": {"datum": 1, "type": "quantitative", "scale": {"domain": [0, 1], "nice": false}, "axis": null}}
            },
            {
              "width": 252, "height": 116,
              "data": {"name": "nfp"},
              "mark": {"type": "line", "strokeWidth": 1.8},
              "encoding": {
                "x": {"field": "m", "type": "ordinal", "scale": {"type": "point", "padding": 0.4}, "axis": {"title": null, "labelAngle": -90, "offset": -19, "labelPadding": 3, "labelOverlap": false, "values": ["2020-05","2020-07","2020-09","2020-11","2021-01","2021-03","2021-05","2021-07","2021-09","2021-11","2022-01","2022-03","2022-05","2022-07","2022-09"]}},
                "y": {"field": "v", "type": "quantitative", "scale": {"domain": [-1000, 5000], "nice": false}, "axis": {"title": null, "values": [-1000, 0, 1000, 2000, 3000, 4000, 5000], "tickCount": 100, "format": "d", "labelPadding": 3, "labelOverlap": false}},
                "color": {"datum": "美国新增非农就业人数（季调，千人）", "type": "nominal", "scale": {"domain": ["美国新增非农就业人数（季调，千人）"], "range": ["#D04A2A"]},
                  "legend": {"title": null, "orient": "none", "legendX": 22, "legendY": -33, "symbolType": "stroke", "symbolSize": 625, "symbolStrokeWidth": 2, "labelFontSize": 9, "labelOffset": 3}}
              }
            },
            {
              "width": 252, "height": 21, "data": {"values": [{}]},
              "title": {"text": "资料来源：Wind，光大证券研究所（2020/5-2022/10）", "orient": "bottom", "offset": 11, "baseline": "top", "anchor": "start", "frame": "bounds", "fontSize": 8, "fontWeight": "normal", "font": "Liberation Sans, Noto Sans CJK SC", "color": "#222"},
              "mark": {"type": "rule", "color": "#8f8f8f", "strokeWidth": 1.5},
              "encoding": {"x": {"datum": -43, "type": "quantitative", "scale": {"domain": [0, 252], "nice": false, "zero": false}, "axis": null}, "x2": {"datum": 260}, "y": {"datum": 0, "type": "quantitative", "scale": {"domain": [0, 1], "nice": false}, "axis": null}}
            }
          ]
        },
        {
          "spacing": -11,
          "resolve": {"scale": {"color": "independent"}, "legend": {"color": "independent"}},
          "vconcat": [
            {
              "width": 257, "height": 7, "data": {"values": [{}]},
              "title": {"text": "图 9：美国月度失业率有见底回升趋势", "orient": "top", "offset": 3, "baseline": "bottom", "anchor": "start", "frame": "bounds"},
              "mark": {"type": "rule", "color": "#8f8f8f", "strokeWidth": 1.5},
              "encoding": {"x": {"datum": -35, "type": "quantitative", "scale": {"domain": [0, 257], "nice": false, "zero": false}, "axis": null}, "x2": {"datum": 271}, "y": {"datum": 1, "type": "quantitative", "scale": {"domain": [0, 1], "nice": false}, "axis": null}}
            },
            {
              "width": 257, "height": 105,
              "data": {"name": "unemp"},
              "mark": {"type": "line", "strokeWidth": 1.8},
              "encoding": {
                "x": {"field": "m", "type": "ordinal", "scale": {"type": "point", "padding": 0.35}, "axis": {"title": null, "labelAngle": -90, "labelPadding": 3, "labelOverlap": false, "values": ["2020-05","2020-07","2020-09","2020-11","2021-01","2021-03","2021-05","2021-07","2021-09","2021-11","2022-01","2022-03","2022-05","2022-07","2022-09"]}},
                "y": {"field": "v", "type": "quantitative", "scale": {"domain": [3, 15], "nice": false, "zero": false}, "axis": {"title": null, "values": [3, 5, 7, 9, 11, 13, 15], "tickCount": 100, "format": ".1f", "labelPadding": 3, "labelOverlap": false}},
                "color": {"datum": "美国:失业率:季调（%）", "type": "nominal", "scale": {"domain": ["美国:失业率:季调（%）"], "range": ["#D04A2A"]},
                  "legend": {"title": null, "orient": "none", "legendX": 58, "legendY": -33, "symbolType": "stroke", "symbolSize": 625, "symbolStrokeWidth": 2, "labelFontSize": 9, "labelOffset": 3}}
              }
            },
            {
              "width": 257, "height": 9, "data": {"values": [{}]},
              "title": {"text": "资料来源：Wind，光大证券研究所（2020/5-2022/10）", "orient": "bottom", "offset": 11, "baseline": "top", "anchor": "start", "frame": "bounds", "fontSize": 8, "fontWeight": "normal", "font": "Liberation Sans, Noto Sans CJK SC", "color": "#222"},
              "mark": {"type": "rule", "color": "#8f8f8f", "strokeWidth": 1.5},
              "encoding": {"x": {"datum": -35, "type": "quantitative", "scale": {"domain": [0, 257], "nice": false, "zero": false}, "axis": null}, "x2": {"datum": 271}, "y": {"datum": 0, "type": "quantitative", "scale": {"domain": [0, 1], "nice": false}, "axis": null}}
            }
          ]
        }
      ]
    },
    {"width": 1, "height": 117, "data": {"values": []}, "mark": "point"},
    {
      "width": 724, "height": 26,
      "data": {"values": [{}]},
      "layer": [
        {"mark": {"type": "rect", "color": "#C4441F"},
         "encoding": {"x": {"datum": 0, "type": "quantitative", "scale": {"domain": [0, 724], "nice": false, "zero": false}, "axis": null}, "x2": {"datum": 724}, "y": {"datum": 0, "type": "quantitative", "scale": {"domain": [0, 26], "nice": false, "zero": false, "reverse": true}, "axis": null}, "y2": {"datum": 26}}},
        {"mark": {"type": "text", "text": "敬请参阅最后一页特别声明", "font": "Noto Sans CJK SC", "fontSize": 10.5, "color": "#FFFFFF", "align": "left", "baseline": "middle"},
         "encoding": {"x": {"datum": 45, "type": "quantitative"}, "y": {"datum": 13, "type": "quantitative"}}},
        {"mark": {"type": "text", "text": "-3-", "font": "Liberation Sans", "fontSize": 10, "color": "#FFFFFF", "align": "center", "baseline": "middle"},
         "encoding": {"x": {"datum": 361, "type": "quantitative"}, "y": {"datum": 13, "type": "quantitative"}}},
        {"mark": {"type": "text", "text": "证券研究报告", "font": "Noto Sans CJK SC", "fontSize": 10.5, "color": "#FFFFFF", "align": "right", "baseline": "middle"},
         "encoding": {"x": {"datum": 673, "type": "quantitative"}, "y": {"datum": 13, "type": "quantitative"}}}
      ]
    }
  ]
}
